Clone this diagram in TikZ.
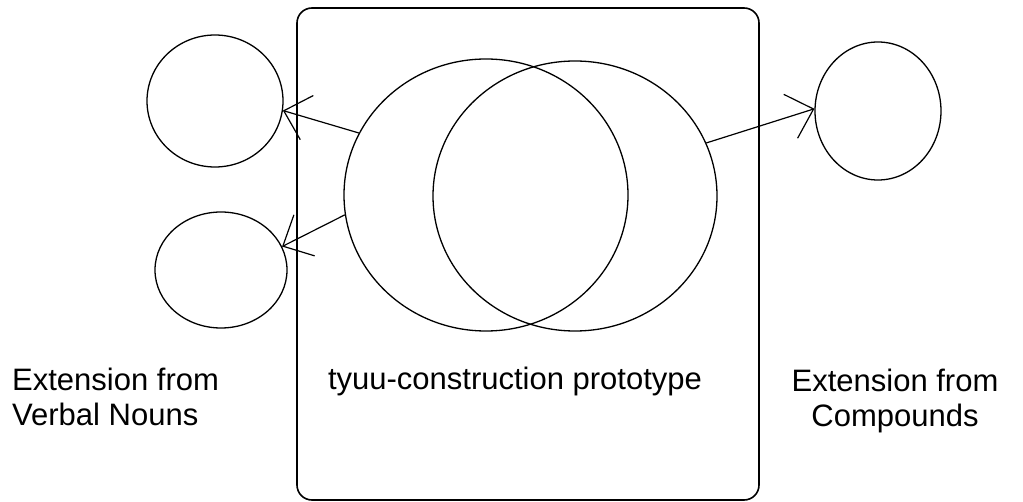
\documentclass[tikz,border=0pt]{standalone}
\usepackage{fontspec}
\setmainfont{Liberation Sans}
\usetikzlibrary{shapes.geometric,arrows.meta}
\tikzset{
  ring/.style={ellipse, draw, inner sep=0pt, line width=1.3pt},
  link/.style={line width=1.2pt, -{Straight Barb[length=24pt,width=46pt,line width=1.2pt]}},
  lbl/.style={inner sep=0pt, font=\fontsize{31}{35}\selectfont}
}
\begin{document}
\begin{tikzpicture}[x=1pt,y=-1pt]
\useasboundingbox (0,0) rectangle (1023,502);
% frame
\node[draw, line width=1.6pt, rounded corners=15pt, minimum width=462pt, minimum height=492pt, inner sep=0pt] (frame) at (528,254) {};
% big ellipses
\node[ring, minimum width=284pt, minimum height=272pt] (L) at (486,195) {};
\node[ring, minimum width=284pt, minimum height=270pt] (R) at (575,196) {};
% small circles
\node[ring, minimum width=136pt, minimum height=132pt] (TL) at (215,101) {};
\node[ring, minimum width=132pt, minimum height=116pt] (BL) at (221,270) {};
\node[ring, minimum width=126pt, minimum height=138pt] (RC) at (878,111) {};
% arrows
\draw[link] (L.154) -- (TL.-8);
\draw[link] (L.188) -- (BL.21);
\draw[link] (R.22) -- (RC.178);
% labels
\node[lbl, anchor=base] (mid) at (515,390) {tyuu-construction prototype};
\node[lbl, anchor=north west, align=left] (vn) at (12,368) {Extension from\\Verbal Nouns};
\node[lbl, anchor=north, align=center] (cp) at (895,369) {Extension from\\Compounds};
\end{tikzpicture}
\end{document}
